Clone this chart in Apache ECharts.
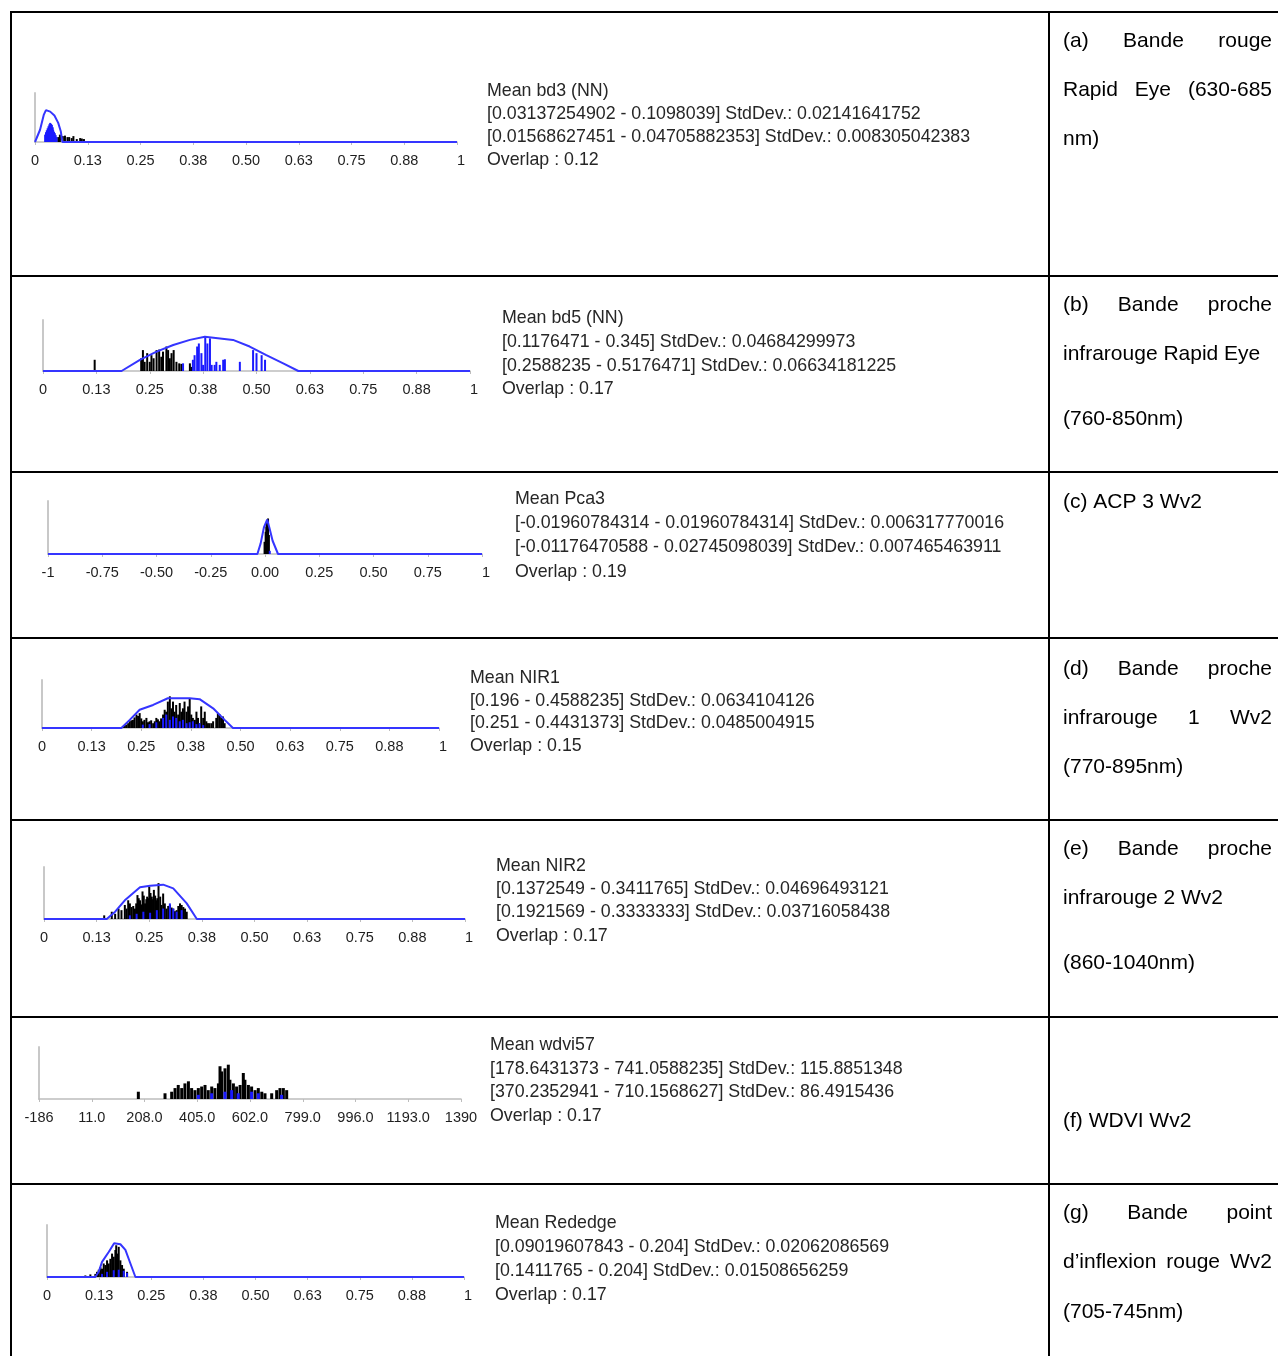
<!DOCTYPE html>
<html><head><meta charset="utf-8">
<script src="https://cdn.jsdelivr.net/npm/echarts@6/dist/echarts.min.js"></script>
<style>html,body{margin:0;padding:0;background:#fff}#c{width:1278px;height:1356px}</style>
</head><body><div id="c"></div>
<script>
// ---------- tick values and labels ----------
const unitTicks = [0, 0.125, 0.25, 0.375, 0.5, 0.625, 0.75, 0.875, 1];
const unitLabels = ['0', '0.13', '0.25', '0.38', '0.50', '0.63', '0.75', '0.88', '1'];
const pcaTicks = [-1, -0.75, -0.5, -0.25, 0, 0.25, 0.5, 0.75, 1];
const pcaLabels = ['-1', '-0.75', '-0.50', '-0.25', '0.00', '0.25', '0.50', '0.75', '1'];
const wdviTicks = [-186, 11, 208, 405, 602, 799, 996, 1193, 1390];
const wdviLabels = ['-186', '11.0', '208.0', '405.0', '602.0', '799.0', '996.0', '1193.0', '1390'];

// ---------- (a) bd3 ----------
const aEnvelope = [[0,0],[0.004,0],[0.012,25],[0.021,56],[0.026,65],[0.036,62],[0.046,54],[0.055,39],[0.061,22],[0.065,0],[1,0]];
const aBlack = [[0.038,6],[0.055,10],[0.059,15],[0.066,12],[0.071,13],[0.077,10],[0.081,10],[0.087,8],[0.091,12],[0.099,6],[0.107,8],[0.111,7],[0.116,6]];
const aBlue = [[0.024,15],[0.026,20],[0.028,24],[0.030,28],[0.032,32],[0.034,36],[0.036,39],[0.038,37],[0.040,35],[0.042,30],[0.043,25],[0.045,21],[0.047,18],[0.049,14],[0.051,10]];
const aStats = ['Mean bd3 (NN)', '[0.03137254902 - 0.1098039] StdDev.: 0.02141641752', '[0.01568627451 - 0.04705882353] StdDev.: 0.008305042383', 'Overlap : 0.12'];

// ---------- (b) bd5 ----------
const bEnvelope = [[0,0],[0.184,0],[0.227,22],[0.266,38],[0.305,51],[0.344,61],[0.379,67],[0.445,61],[0.484,48],[0.523,31],[0.5625,15],[0.598,0],[1,0]];
const bBlack = [[0.121,22],[0.230,25],[0.234,41],[0.238,18],[0.244,35],[0.250,18],[0.254,31],[0.259,25],[0.266,41],[0.272,42],[0.277,28],[0.281,38],[0.289,48],[0.293,41],[0.297,25],[0.301,35],[0.306,41],[0.3125,18],[0.319,15],[0.324,14],[0.344,15],[0.348,8]];
const bBlue = [[0.328,15],[0.351,22],[0.355,31],[0.361,48],[0.365,54],[0.371,35],[0.375,12],[0.380,67],[0.385,54],[0.391,64],[0.395,12],[0.402,12],[0.406,18],[0.414,12],[0.422,22],[0.426,23],[0.461,18],[0.492,41],[0.500,35],[0.512,31],[0.520,22]];
const bStats = ['Mean bd5 (NN)', '[0.1176471 - 0.345] StdDev.: 0.04684299973', '[0.2588235 - 0.5176471] StdDev.: 0.06634181225', 'Overlap : 0.17'];

// ---------- (c) Pca3 ----------
const cEnvelope = [[-1,0],[-0.035,0],[-0.02,20],[-0.005,50],[0.01,65],[0.02,50],[0.035,25],[0.06,0],[1,0]];
const cBlack = [[-0.002,23],[0.003,42],[0.006,52],[0.009,61],[0.012,65],[0.014,67],[0.018,36]];
const cBlue = [[0.022,6]];
const cStats = ['Mean Pca3', '[-0.01960784314 - 0.01960784314] StdDev.: 0.006317770016', '[-0.01176470588 - 0.02745098039] StdDev.: 0.007465463911', 'Overlap : 0.19'];

// ---------- (d) NIR1 ----------
const dEnvelope = [[0,0],[0.2,0],[0.221,17],[0.246,38],[0.280,48],[0.317,62],[0.372,62],[0.397,60],[0.431,41],[0.460,17],[0.481,0],[1,0]];
const dBlack = [[0.204,3],[0.208,5],[0.212,7],[0.217,10],[0.221,14],[0.225,16],[0.229,17],[0.233,22],[0.238,28],[0.242,25],[0.246,31],[0.250,20],[0.254,14],[0.258,17],[0.263,21],[0.267,12],[0.271,14],[0.275,16],[0.280,10],[0.284,14],[0.288,21],[0.292,18],[0.296,14],[0.300,20],[0.305,28],[0.309,38],[0.313,34],[0.317,55],[0.322,66],[0.326,41],[0.330,55],[0.334,34],[0.338,48],[0.343,28],[0.347,52],[0.351,34],[0.355,41],[0.359,55],[0.364,34],[0.368,45],[0.372,62],[0.376,28],[0.380,21],[0.385,17],[0.389,34],[0.393,21],[0.397,10],[0.401,45],[0.406,21],[0.410,34],[0.414,14],[0.418,10],[0.422,10],[0.427,10],[0.431,14],[0.439,21],[0.443,31],[0.448,28],[0.452,21],[0.456,24],[0.460,10]];
const dBlue = [[0.254,7],[0.271,8],[0.288,12],[0.305,21],[0.313,28],[0.322,17],[0.330,24],[0.338,21],[0.347,14],[0.355,17],[0.364,10],[0.372,12],[0.380,14],[0.389,8],[0.397,10],[0.406,6]];
const dStats = ['Mean NIR1', '[0.196 - 0.4588235] StdDev.: 0.0634104126', '[0.251 - 0.4431373] StdDev.: 0.0485004915', 'Overlap : 0.15'];

// ---------- (e) NIR2 ----------
const eEnvelope = [[0,0],[0.149,0],[0.169,14],[0.192,36],[0.228,61],[0.252,64],[0.283,66],[0.307,59],[0.339,30],[0.363,0],[1,0]];
const eBlack = [[0.143,7],[0.161,14],[0.169,10],[0.177,20],[0.184,17],[0.192,27],[0.196,20],[0.200,36],[0.204,30],[0.208,23],[0.212,25],[0.216,20],[0.219,30],[0.222,46],[0.225,40],[0.228,36],[0.231,28],[0.234,53],[0.237,45],[0.240,30],[0.243,38],[0.245,43],[0.248,40],[0.250,62],[0.253,50],[0.256,43],[0.259,38],[0.261,56],[0.264,45],[0.266,36],[0.269,40],[0.272,69],[0.276,43],[0.279,27],[0.283,49],[0.287,30],[0.291,20],[0.295,25],[0.299,27],[0.303,22],[0.307,20],[0.311,15],[0.315,17],[0.319,25],[0.323,30],[0.327,27],[0.331,23],[0.335,20],[0.339,14]];
const eBlue = [[0.204,7],[0.220,10],[0.236,14],[0.252,12],[0.268,17],[0.283,20],[0.299,30],[0.307,20],[0.315,14],[0.327,17]];
const eStats = ['Mean NIR2', '[0.1372549 - 0.3411765] StdDev.: 0.04696493121', '[0.1921569 - 0.3333333] StdDev.: 0.03716058438', 'Overlap : 0.17'];

// ---------- (f) wdvi57 ----------
const fBlack = [[185,14],[284.6,11],[309.5,14],[322,21],[334,27],[347,21],[359,30],[372,34],[384,21],[396.6,17],[409,21],[421.5,24],[434,27],[446,17],[459,24],[471,21],[484,30],[490,63],[496,53],[508.6,59],[521,66],[527,37],[540,30],[552,24],[565,27],[577,50],[583,37],[596,27],[608,24],[621,17],[633,21],[646,14],[658,11],[683,11],[701.6,17],[714,21],[726.5,21],[739,17]];
const fBlue = [[409,8],[459,11],[508.6,14],[533.5,17],[558,11],[608,14],[633,11],[720,8]];
const fStats = ['Mean wdvi57', '[178.6431373 - 741.0588235] StdDev.: 115.8851348', '[370.2352941 - 710.1568627] StdDev.: 86.4915436', 'Overlap : 0.17'];

// ---------- (g) Rededge ----------
const gEnvelope = [[0,0],[0.116,0],[0.124,10],[0.132,29],[0.148,48],[0.161,65],[0.176,63],[0.188,52],[0.2,26],[0.212,0],[1,0]];
const gBlack = [[0.092,3],[0.104,5],[0.116,6],[0.120,10],[0.124,14],[0.128,19],[0.132,16],[0.136,26],[0.140,23],[0.144,32],[0.148,26],[0.152,35],[0.156,45],[0.160,39],[0.164,52],[0.166,61],[0.169,45],[0.172,58],[0.176,32],[0.180,23],[0.184,16],[0.192,10]];
const gBlue = [[0.132,6],[0.144,10],[0.160,13],[0.172,14],[0.184,12],[0.192,8]];
const gStats = ['Mean Rededge', '[0.09019607843 - 0.204] StdDev.: 0.02062086569', '[0.1411765 - 0.204] StdDev.: 0.01508656259', 'Overlap : 0.17'];

// ---------- captions (right column) ----------
const aCaption = [['(a)','Bande','rouge'], ['Rapid','Eye','(630-685'], ['nm)']];
const bCaption = [['(b)','Bande','proche'], ['infrarouge Rapid Eye'], ['(760-850nm)']];
const cCaption = [['(c) ACP 3 Wv2']];
const dCaption = [['(d)','Bande','proche'], ['infrarouge','1','Wv2'], ['(770-895nm)']];
const eCaption = [['(e)','Bande','proche'], ['infrarouge 2 Wv2'], ['(860-1040nm)']];
const fCaption = [['(f) WDVI Wv2']];
const gCaption = [['(g)','Bande','point'], ['d\u2019inflexion','rouge','Wv2'], ['(705-745nm)']];

// ---------- layout (positions only) ----------
const panels = [
  {env:aEnvelope, black:aBlack, blue:aBlue, stats:aStats, cap:aCaption, ticks:unitTicks, labels:unitLabels, min:0, max:1,
   grid:{left:35, top:93, width:422, height:49}, bw:2, maxAlign:'left', statsPos:[487,[91,114,137,160]], capY:[41,90,139], capJ:[true,true,false]},
  {env:bEnvelope, black:bBlack, blue:bBlue, stats:bStats, cap:bCaption, ticks:unitTicks, labels:unitLabels, min:0, max:1,
   grid:{left:43, top:320, width:427, height:51}, bw:2, maxAlign:'left', statsPos:[502,[318,342,366,389]], capY:[305,354,419], capJ:[true,false,false]},
  {env:cEnvelope, black:cBlack, blue:cBlue, stats:cStats, cap:cCaption, ticks:pcaTicks, labels:pcaLabels, min:-1, max:1,
   grid:{left:48, top:501, width:434, height:53}, bw:2, maxAlign:'left', statsPos:[515,[499,523,547,572]], capY:[502], capJ:[false]},
  {env:dEnvelope, black:dBlack, blue:dBlue, stats:dStats, cap:dCaption, ticks:unitTicks, labels:unitLabels, min:0, max:1,
   grid:{left:42, top:680, width:397, height:48}, bw:2, maxAlign:'left', statsPos:[470,[678,701,723,746]], capY:[669,718,767], capJ:[true,true,false]},
  {env:eEnvelope, black:eBlack, blue:eBlue, stats:eStats, cap:eCaption, ticks:unitTicks, labels:unitLabels, min:0, max:1,
   grid:{left:44, top:867, width:421, height:52}, bw:2, maxAlign:'left', statsPos:[496,[866,889,912,936]], capY:[849,898,963], capJ:[true,false,false]},
  {env:null, black:fBlack, blue:fBlue, stats:fStats, cap:fCaption, ticks:wdviTicks, labels:wdviLabels, min:-186, max:1390,
   grid:{left:39, top:1047, width:422, height:52}, bw:3, maxAlign:'center', statsPos:[490,[1045,1069,1092,1116]], capY:[1121], capJ:[false]},
  {env:gEnvelope, black:gBlack, blue:gBlue, stats:gStats, cap:gCaption, ticks:unitTicks, labels:unitLabels, min:0, max:1,
   grid:{left:47, top:1225, width:417, height:52}, bw:2, maxAlign:'left', statsPos:[495,[1223,1247,1271,1295]], capY:[1213,1262,1312], capJ:[true,true,false]}
];
const rowLines = [12, 276, 472, 638, 820, 1017, 1184];
const tableLeft = 11, divider = 1049, tableRight = 1278, tableBottom = 1356;
const capLeft = 1063, capRight = 1272;

const FONT = '"Liberation Sans", Arial, sans-serif';
const statFont = '17.8px ' + FONT;
const capFont = '21px ' + FONT;
const BLUE = '#1a1aff', LINEBLUE = '#3535ff';

const chart = echarts.init(document.getElementById('c'), null, {renderer: 'canvas'});
const grids = [], xAxes = [], yAxes = [], series = [], graphics = [];

const mctx = document.createElement('canvas').getContext('2d');
mctx.font = capFont;

function fmt(ticks, labels) {
  return function (v) {
    const i = ticks.findIndex(t => Math.abs(t - v) < 1e-6);
    return i < 0 ? '' : labels[i];
  };
}

panels.forEach((p, i) => {
  grids.push(Object.assign({containLabel: false}, p.grid));
  xAxes.push({
    type: 'value', gridIndex: i, min: p.min, max: p.max,
    axisLine: {show: true, onZero: false, lineStyle: {color: '#bdbdbd', width: 1.5}},
    axisTick: {show: true, customValues: p.ticks, length: 3, lineStyle: {color: '#bdbdbd'}},
    axisLabel: {customValues: p.ticks, formatter: fmt(p.ticks, p.labels), fontSize: 14.5, fontFamily: FONT,
                color: '#1e1e1e', margin: 11, alignMaxLabel: p.maxAlign},
    splitLine: {show: false}
  });
  yAxes.push({
    type: 'value', gridIndex: i, min: 0, max: 100,
    axisLine: {show: true, onZero: false, lineStyle: {color: '#c8c8c8', width: 2}},
    axisTick: {show: false}, axisLabel: {show: false}, splitLine: {show: false}
  });
  series.push({type: 'bar', xAxisIndex: i, yAxisIndex: i, data: p.black, barWidth: p.bw, barGap: '-100%',
               itemStyle: {color: '#000'}, z: 2, silent: true});
  series.push({type: 'bar', xAxisIndex: i, yAxisIndex: i, data: p.blue, barWidth: p.bw, barGap: '-100%',
               itemStyle: {color: BLUE}, z: 3, silent: true});
  if (p.env) {
    series.push({type: 'line', xAxisIndex: i, yAxisIndex: i, data: p.env, symbol: 'none', z: 4, silent: true,
                 lineStyle: {color: LINEBLUE, width: 2}});
  }
  // stats text
  p.stats.forEach((t, k) => {
    graphics.push({type: 'text', x: p.statsPos[0], y: p.statsPos[1][k], silent: true,
      style: {text: t, font: statFont, fill: '#262626', align: 'left', verticalAlign: 'middle'}});
  });
  // captions
  p.cap.forEach((words, k) => {
    const y = p.capY[k];
    if (p.capJ[k] && words.length > 1) {
      const widths = words.map(w => mctx.measureText(w).width);
      const total = widths.reduce((a, b) => a + b, 0);
      const gap = (capRight - capLeft - total) / (words.length - 1);
      let x = capLeft;
      words.forEach((w, j) => {
        graphics.push({type: 'text', x: x, y: y, silent: true,
          style: {text: w, font: capFont, fill: '#000', align: 'left', verticalAlign: 'middle'}});
        x += widths[j] + gap;
      });
    } else {
      graphics.push({type: 'text', x: capLeft, y: y, silent: true,
        style: {text: words.join(' '), font: capFont, fill: '#000', align: 'left', verticalAlign: 'middle'}});
    }
  });
});

// table lines
rowLines.forEach(y => graphics.push({type: 'line', silent: true,
  shape: {x1: tableLeft - 1, y1: y, x2: tableRight, y2: y}, style: {stroke: '#000', lineWidth: 2}}));
graphics.push({type: 'line', silent: true, shape: {x1: tableLeft, y1: rowLines[0] - 1, x2: tableLeft, y2: tableBottom},
  style: {stroke: '#000', lineWidth: 2}});
graphics.push({type: 'line', silent: true, shape: {x1: divider, y1: rowLines[0] - 1, x2: divider, y2: tableBottom},
  style: {stroke: '#000', lineWidth: 2}});

chart.setOption({
  animation: false,
  backgroundColor: '#fff',
  grid: grids, xAxis: xAxes, yAxis: yAxes, series: series,
  graphic: {elements: graphics}
});
</script></body></html>
